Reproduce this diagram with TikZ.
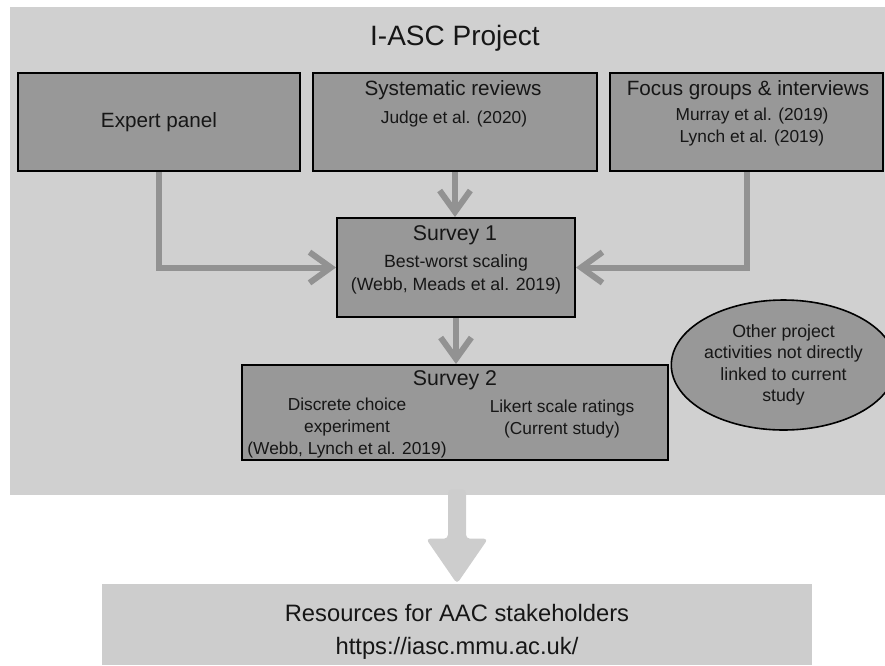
\documentclass[tikz,border=0pt]{standalone}
\usepackage{fontspec}
\setmainfont{Liberation Sans}
\usetikzlibrary{positioning,calc,arrows.meta,shapes.geometric}
\definecolor{iaback}{RGB}{208,208,208}
\definecolor{iabox}{RGB}{152,152,152}
\definecolor{iaflow}{RGB}{146,146,146}
\definecolor{iares}{RGB}{205,205,205}
\definecolor{iatext}{RGB}{22,22,22}

\begin{document}
\begin{tikzpicture}[x=0.75pt, y=-0.75pt,
    stagebox/.style={draw=black, line width=1.5pt, fill=iabox, inner sep=0pt},
    boxhead/.style={font=\fontsize{15.5}{18}\selectfont, text=iatext, inner sep=0pt},
    boxtext/.style={font=\fontsize{13}{16.5}\selectfont, text=iatext, inner sep=0pt, align=center},
    flow/.style={draw=iaflow, line width=4.5pt, -{Straight Barb[length=16pt, width=23pt]}}]
    \useasboundingbox (0,0) rectangle (885,665);
    \node[fill=iaback, inner sep=0pt, minimum width=656.25pt, minimum height=366pt] (bg) at (447.5,251) {};
    \node[font=\fontsize{21}{25}\selectfont, text=iatext, inner sep=0pt, anchor=north] (title) at (455,25) {I-ASC Project};

    \node[stagebox, boxhead, minimum width=211.5pt, minimum height=73.5pt] (expert) at (159,122) {Expert panel};
    \node[stagebox, minimum width=213pt, minimum height=73.5pt] (sysrev) at (455,122) {};
    \node[boxhead, anchor=north] (sysrevhead) at (453,80) {Systematic reviews};
    \node[boxtext, anchor=north] (sysrevtext) at (454,111) {Judge et al. (2020)};
    \node[stagebox, minimum width=204.75pt, minimum height=73.5pt] (focus) at (746.5,122) {};
    \node[boxhead, anchor=north] (focushead) at (748,80) {Focus groups \& interviews};
    \node[boxtext, anchor=north] (focustext) at (752,108) {Murray et al. (2019)\\Lynch et al. (2019)};

    \node[stagebox, minimum width=178.5pt, minimum height=74.25pt] (survey1) at (456,267.5) {};
    \node[font=\fontsize{16}{19}\selectfont, text=iatext, inner sep=0pt, anchor=north] (survey1head) at (455,225) {Survey 1};
    \node[boxtext, anchor=north, font=\fontsize{13.3}{17.25}\selectfont] (survey1text) at (456,254) {Best-worst scaling\\(Webb, Meads et al. 2019)};

    \node[stagebox, minimum width=319.5pt, minimum height=71.25pt] (survey2) at (455,412.5) {};
    \node[font=\fontsize{16}{19}\selectfont, text=iatext, inner sep=0pt, anchor=north] (survey2head) at (455,370) {Survey 2};
    \node[boxtext, anchor=north] (dce) at (347,398) {Discrete choice\\experiment\\(Webb, Lynch et al. 2019)};
    \node[boxtext, anchor=north, font=\fontsize{13}{16}\selectfont] (likert) at (562,400) {Likert scale ratings\\(Current study)};

    \node[ellipse, draw=black, line width=1.2pt, fill=iabox, inner sep=0pt, minimum width=150.75pt, minimum height=97.5pt,
      align=center, text=iatext, font=\fontsize{13.3}{16.2}\selectfont] (other) at (783.5,365)
      {Other project\\activities not directly\\linked to current\\study};

    \draw[flow] (sysrev.south) -- (sysrev.south |- survey1.north);
    \draw[flow] (expert.south) |- (survey1.west);
    \draw[flow] (focus.south) |- (survey1.east);
    \draw[flow] (survey1.south) -- (survey1.south |- survey2.north);

    \node[fill=iares, inner sep=0pt, minimum width=532.5pt, minimum height=60.75pt] (res) at (457,624.5) {};
    \node[font=\fontsize{17.8}{24.75}\selectfont, text=iatext, inner sep=0pt, anchor=north, align=center] (restext) at (457,604)
      {Resources for AAC stakeholders\\https://iasc.mmu.ac.uk/};

    \fill[iares, rounded corners=3pt]
      ($(bg.south -| res.north)+(-9,-6)$) -- ($(res.north)+(-9,-45)$) -- ($(res.north)+(-31,-45)$)
      -- (res.north) -- ($(res.north)+(31,-45)$) -- ($(res.north)+(9,-45)$)
      -- ($(bg.south -| res.north)+(9,-6)$) -- cycle;
  \end{tikzpicture}
\end{document}
